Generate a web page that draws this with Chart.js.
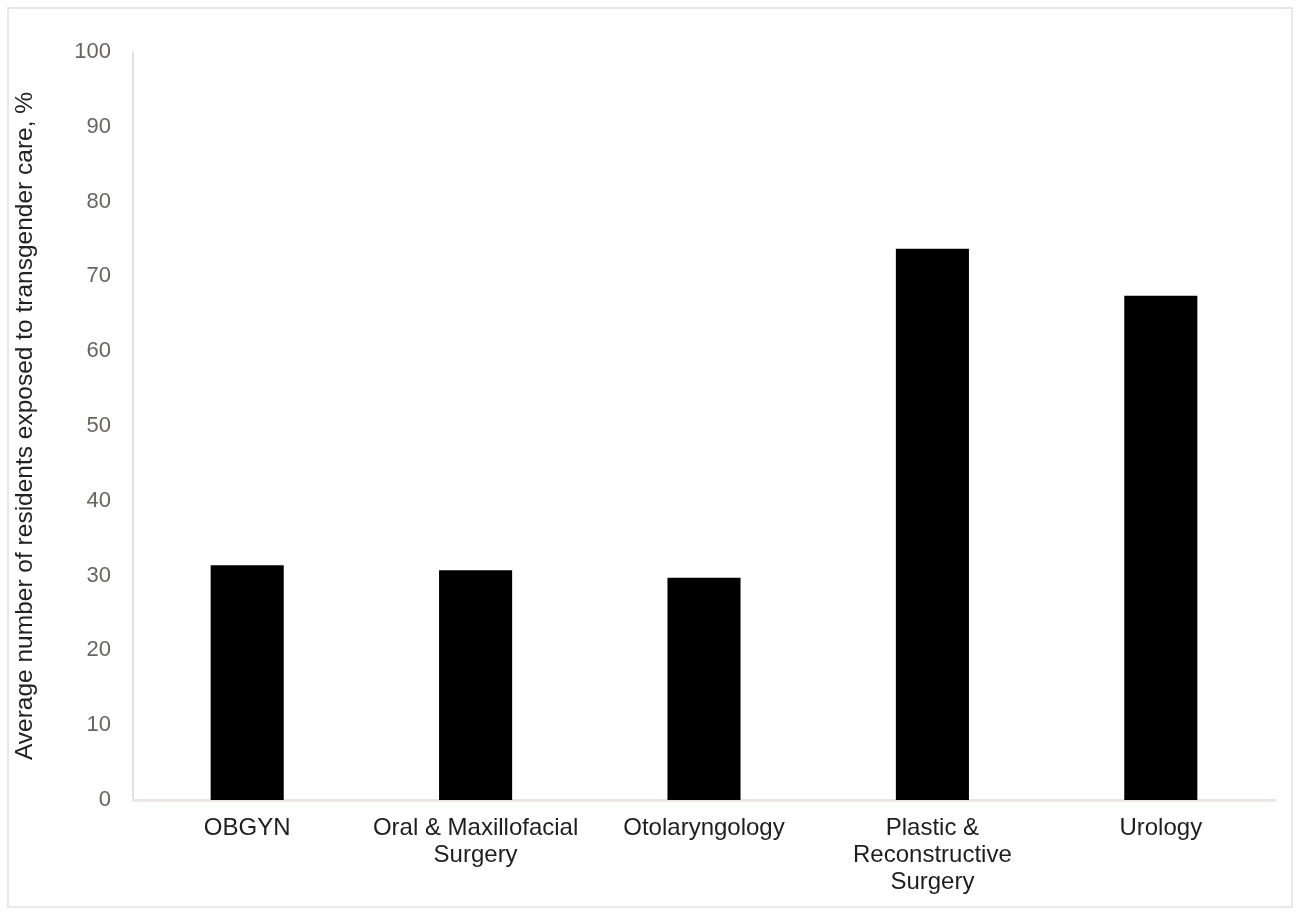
<!DOCTYPE html>
<html>
<head>
<meta charset="utf-8">
<script src="https://cdn.jsdelivr.net/npm/chart.js@4/dist/chart.umd.min.js"></script>
<style>
  html, body { margin: 0; padding: 0; background: #fff; }
  #wrap { position: relative; width: 1298px; height: 912px; }
  #frame { position: absolute; left: 7px; top: 7px; right: 5px; bottom: 4px; border: 2px solid #ece6e6; pointer-events: none; }
</style>
</head>
<body>
<div id="wrap">
  <canvas id="chart" width="1298" height="912"></canvas>
  <div id="frame"></div>
</div>
<script>
// Chart values
const categories = [
  'OBGYN',
  ['Oral & Maxillofacial', 'Surgery'],
  'Otolaryngology',
  ['Plastic &', 'Reconstructive', 'Surgery'],
  'Urology'
];
const exposedPct = [31.4, 30.7, 29.7, 73.7, 67.4];
const yTicks = [0, 10, 20, 30, 40, 50, 60, 70, 80, 90, 100];

const font = 'Liberation Sans, Arial, sans-serif';

new Chart(document.getElementById('chart'), {
  type: 'bar',
  data: {
    labels: categories,
    datasets: [{
      data: exposedPct,
      backgroundColor: '#000',
      borderWidth: 0,
      categoryPercentage: 1,
      barPercentage: 0.32,
    }],
  },
  options: {
    responsive: false,
    animation: false,
    layout: { padding: { left: 3, right: 23, top: 52, bottom: 0 } },
    plugins: { legend: { display: false }, tooltip: { enabled: false } },
    scales: {
      y: {
        min: 0, max: 100,
        afterBuildTicks: (s) => { s.ticks = yTicks.map(v => ({ value: v })); },
        afterFit: (s) => { s.width = 130; },
        ticks: { color: '#6b6262', padding: 22, font: { family: font, size: 22 } },
        grid: { display: false, drawTicks: false },
        border: { display: true, color: '#e3e0e0', width: 2 },
        title: {
          display: true,
          text: 'Average number of residents exposed to transgender care, %',
          color: '#222',
          font: { family: font, size: 24.5 },
          padding: { top: 8, bottom: 0 },
        },
      },
      x: {
        afterFit: (s) => { s.height = 112; },
        ticks: { color: '#1e1e1e', padding: 15, maxRotation: 0, autoSkip: false, font: { family: font, size: 24, lineHeight: 1.12 } },
        grid: { display: false, drawTicks: false },
        border: { display: true, color: '#ece6e4', width: 3 },
      },
    },
  },
});
</script>
</body>
</html>
